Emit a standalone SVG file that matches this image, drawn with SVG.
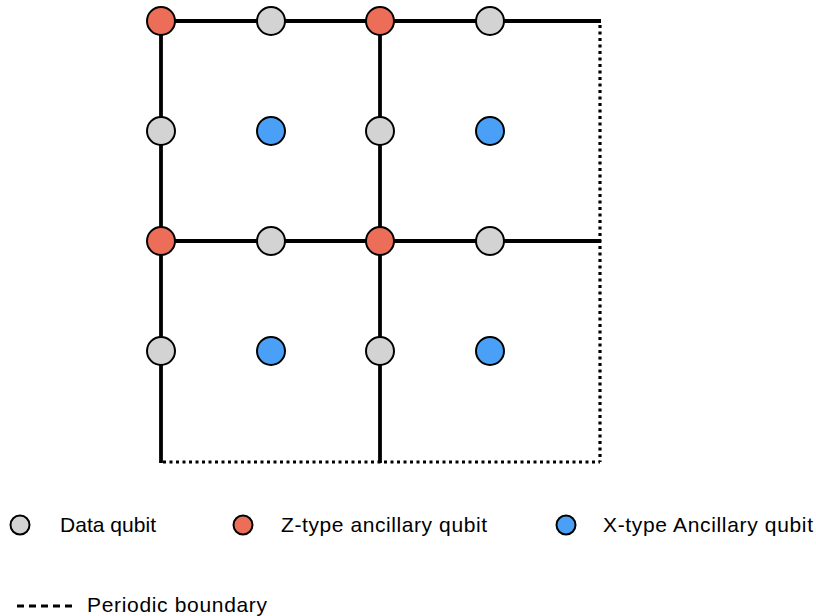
<svg xmlns="http://www.w3.org/2000/svg" width="816" height="616" viewBox="0 0 816 616">
<style>
.edge{stroke:#000;stroke-width:3.8;fill:none;stroke-linecap:butt}
.pb{stroke:#000;stroke-width:3.2;fill:none;stroke-dasharray:3 3.5}
.q{stroke:#000;stroke-width:2}
.data{fill:#D3D3D3}
.z{fill:#EC6E58}
.x{fill:#4AA0F6}
.lbl{font-family:"Liberation Sans",Arial,Helvetica,sans-serif;font-size:21px;fill:#000}
</style>
<rect width="816" height="616" fill="#fff"/>
<g id="connectors">
<line class="edge" x1="159" y1="21" x2="601" y2="21"/>
<line class="edge" x1="161" y1="241" x2="601" y2="241"/>
<line class="edge" x1="161" y1="21" x2="161" y2="463"/>
<line class="edge" x1="380" y1="21" x2="380" y2="463"/>
<line class="pb" x1="600" y1="25" x2="600" y2="462"/>
<line class="pb" x1="163" y1="462" x2="600" y2="462"/>
</g>
<g id="z-0-0"><circle class="q z" cx="161" cy="21" r="14"/></g>
<g id="d-0-1"><circle class="q data" cx="271" cy="21" r="14"/></g>
<g id="z-0-2"><circle class="q z" cx="380" cy="21" r="14"/></g>
<g id="d-0-3"><circle class="q data" cx="490" cy="21" r="14"/></g>
<g id="d-1-0"><circle class="q data" cx="161" cy="131" r="14"/></g>
<g id="x-1-1"><circle class="q x" cx="271" cy="131" r="14"/></g>
<g id="d-1-2"><circle class="q data" cx="380" cy="131" r="14"/></g>
<g id="x-1-3"><circle class="q x" cx="490" cy="131" r="14"/></g>
<g id="z-2-0"><circle class="q z" cx="161" cy="241" r="14"/></g>
<g id="d-2-1"><circle class="q data" cx="271" cy="241" r="14"/></g>
<g id="z-2-2"><circle class="q z" cx="380" cy="241" r="14"/></g>
<g id="d-2-3"><circle class="q data" cx="490" cy="241" r="14"/></g>
<g id="d-3-0"><circle class="q data" cx="161" cy="351" r="14"/></g>
<g id="x-3-1"><circle class="q x" cx="271" cy="351" r="14"/></g>
<g id="d-3-2"><circle class="q data" cx="380" cy="351" r="14"/></g>
<g id="x-3-3"><circle class="q x" cx="490" cy="351" r="14"/></g>
<g id="legend-data"><circle class="q data" cx="20" cy="525" r="9.5"/><text class="lbl" x="60" y="532" textLength="96">Data qubit</text></g>
<g id="legend-z"><circle class="q z" cx="243" cy="525" r="9.5"/><text class="lbl" x="281" y="532" textLength="206">Z-type ancillary qubit</text></g>
<g id="legend-x"><circle class="q x" cx="566" cy="525" r="9.5"/><text class="lbl" x="603" y="532" textLength="210">X-type Ancillary qubit</text></g>
<g id="legend-pb"><line x1="17" y1="606" x2="72" y2="606" stroke="#000" stroke-width="3" stroke-dasharray="7 5"/><text class="lbl" x="87" y="612" textLength="180">Periodic boundary</text></g>
</svg>
